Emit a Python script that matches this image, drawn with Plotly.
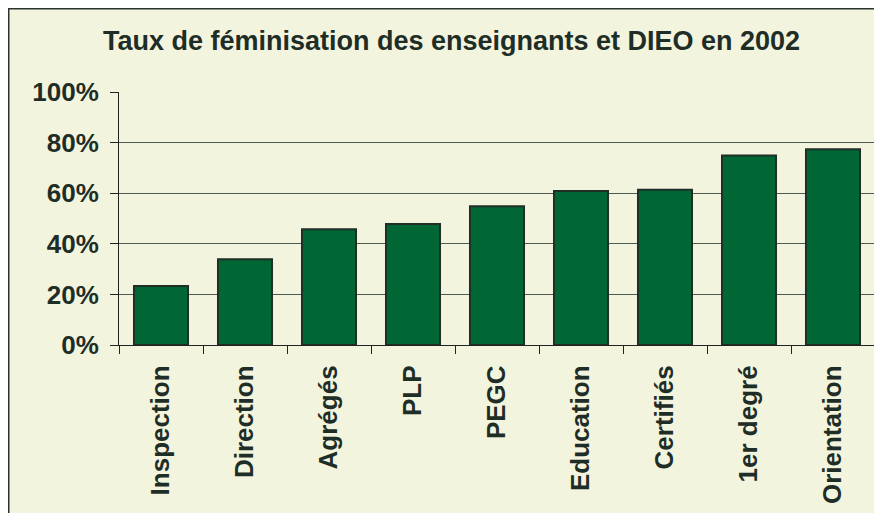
import plotly.graph_objects as go

categories = ["Inspection", "Direction", "Agrégés", "PLP", "PEGC",
              "Education", "Certifiés", "1er degré", "Orientation"]
values = [0.233, 0.339, 0.458, 0.478, 0.548, 0.609, 0.614, 0.749, 0.774]
y_ticks = [0, 0.2, 0.4, 0.6, 0.8, 1.0]
title_text = "Taux de féminisation des enseignants et DIEO en 2002"

W, H = 882, 513
ML, MR, MT, MB = 111, 15, 84, 176
PW, PH = W - ML - MR, H - MT - MB

def px_x(px):
    return (px - ML) / PW

def px_y(py):
    return (H - MB - py) / PH

FONT = "Liberation Sans, Arial, sans-serif"
TXT = "#1e2d26"
BG = "#f3f4de"

fig = go.Figure()
fig.add_trace(go.Bar(
    x=categories, y=values,
    marker=dict(color="#006633", line=dict(color="#1f2f28", width=2)),
    hoverinfo="x+y",
))

fig.update_layout(
    width=W, height=H,
    margin=dict(l=ML, r=MR, t=MT, b=MB, pad=0),
    paper_bgcolor=BG,
    plot_bgcolor="rgba(0,0,0,0)",
    bargap=0.357,
    showlegend=False,
    title=dict(
        text=title_text,
        font=dict(family=FONT, size=27, color=TXT, weight="bold"),
        xref="paper", x=px_x(443.5), xanchor="center",
        yref="container", y=1 - 33 / H, yanchor="middle",
    ),
    font=dict(family=FONT, color=TXT),
    shapes=[dict(
        type="rect", xref="paper", yref="paper", layer="below",
        x0=px_x(0.75), x1=px_x(W + 20), y0=px_y(H + 20), y1=px_y(0.75),
        fillcolor="rgba(0,0,0,0)", line=dict(color="#2b332e", width=1.5),
    )],
)

fig.update_xaxes(
    showline=True, linecolor="#222222", linewidth=1,
    ticks="outside", ticklen=8, tickcolor="#222222", tickwidth=1,
    tickson="boundaries", tickangle=-90, ticklabelstandoff=9,
    tickfont=dict(family=FONT, size=26, color=TXT, weight="bold"),
    showgrid=False, fixedrange=True,
)
fig.update_yaxes(
    range=[0, 1], tickvals=y_ticks, tickformat=".0%",
    showline=True, linecolor="#222222", linewidth=1,
    ticks="outside", ticklen=8, tickcolor="#222222", tickwidth=1,
    ticklabelstandoff=6,
    tickfont=dict(family=FONT, size=26, color=TXT, weight="bold"),
    showgrid=True, gridcolor="#4d5a50", gridwidth=1,
    zeroline=False, fixedrange=True,
)

fig.write_html("out.html")
